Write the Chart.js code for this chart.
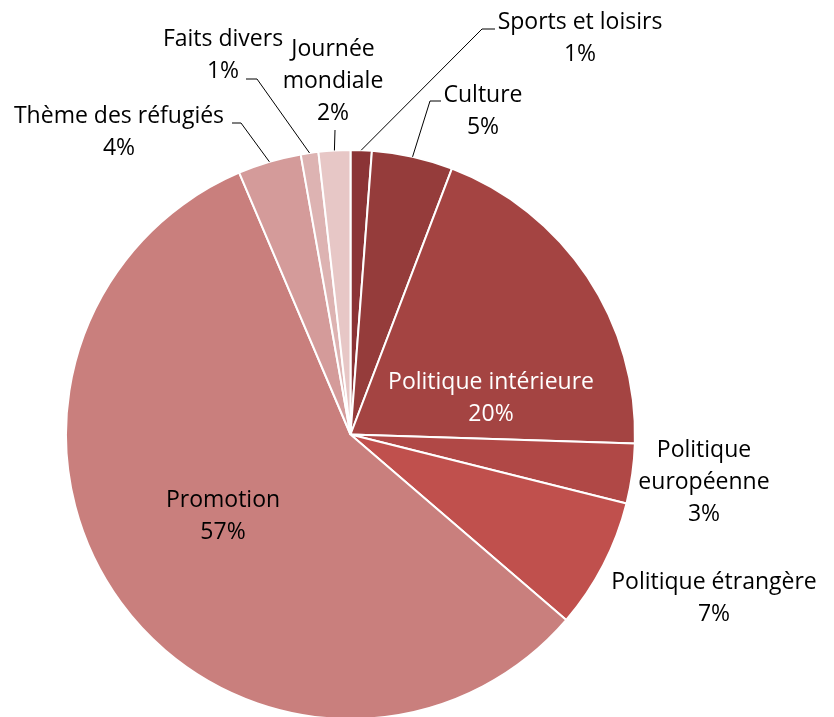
<!DOCTYPE html>
<html>
<head>
<meta charset="utf-8">
<script src="https://cdn.jsdelivr.net/npm/chart.js@4"></script>
<style>
  html, body { margin: 0; padding: 0; background: #fff; overflow: hidden; }
  #wrap { width: 834px; height: 717px; overflow: hidden; }
</style>
</head>
<body>
<div id="wrap"><canvas id="pie_chart" width="834" height="722"></canvas></div>
<script>
// Data
const categories = ['Sports et loisirs', 'Culture', 'Politique intérieure', 'Politique européenne',
    'Politique étrangère', 'Promotion', 'Thème des réfugiés', 'Faits divers', 'Journée mondiale'];
const shares = [1.2, 4.6, 19.7, 3.4, 7.4, 57.3, 3.6, 1.0, 1.8];
const labelLines = [
    ['Sports et loisirs'], ['Culture'], ['Politique intérieure'], ['Politique', 'européenne'],
    ['Politique étrangère'], ['Promotion'], ['Thème des réfugiés'], ['Faits divers'], ['Journée', 'mondiale']
];

const sliceColors = ['#8b3436', '#953c3b', '#a44442', '#b04846', '#c0504d',
    '#c97f7d', '#d49b9a', '#ddb3b2', '#e7c7c6'];

// Label layout (x = centre of text, y = middle of first line)
const labelLayout = [
    { x: 580, y: 22, leader: [[482, 29], [495, 29]] },
    { x: 483, y: 95, leader: [[430, 101], [441, 101]] },
    { x: 491, y: 382, color: '#ffffff' },
    { x: 704, y: 450 },
    { x: 714, y: 582 },
    { x: 223, y: 500 },
    { x: 119, y: 116, leader: [[241, 123], [232, 123]] },
    { x: 223, y: 39, leader: [[257, 79], [246, 79]] },
    { x: 333, y: 49, leader: [[335, 130]] }
];

const lineHeight = 32;
const labelFont = '23px "Open Sans", sans-serif';

const labelPlugin = {
    id: 'pieLabels',
    afterDraw(chart) {
        const ctx = chart.ctx;
        const meta = chart.getDatasetMeta(0);
        const total = shares.reduce((a, b) => a + b, 0);
        ctx.save();
        meta.data.forEach((arc, i) => {
            const lay = labelLayout[i];
            const p = arc.getProps(['x', 'y', 'startAngle', 'endAngle', 'outerRadius'], true);
            if (lay.leader) {
                const mid = (p.startAngle + p.endAngle) / 2;
                ctx.beginPath();
                ctx.moveTo(p.x + Math.cos(mid) * p.outerRadius, p.y + Math.sin(mid) * p.outerRadius);
                lay.leader.forEach(pt => ctx.lineTo(pt[0], pt[1]));
                ctx.strokeStyle = '#000000';
                ctx.lineWidth = 1;
                ctx.stroke();
            }
            ctx.font = labelFont;
            ctx.fillStyle = lay.color || '#000000';
            ctx.textAlign = 'center';
            ctx.textBaseline = 'middle';
            const lines = labelLines[i].concat([Math.round(shares[i] / total * 100) + '%']);
            lines.forEach((t, k) => ctx.fillText(t, lay.x, lay.y + k * lineHeight));
        });
        ctx.restore();
    }
};

const pie_ctx = document.getElementById('pie_chart').getContext('2d');
const pie_chart = new Chart(pie_ctx, {
    type: 'pie',
    data: {
        labels: categories,
        datasets: [{
            data: shares,
            backgroundColor: sliceColors,
            borderColor: '#ffffff',
            borderWidth: 2
        }]
    },
    options: {
        responsive: false,
        animation: false,
        layout: {
            padding: { left: 65, right: 198, top: 149, bottom: 2 }
        },
        plugins: {
            legend: { display: false },
            tooltip: { enabled: false }
        }
    },
    plugins: [labelPlugin]
});
</script>
</body>
</html>
